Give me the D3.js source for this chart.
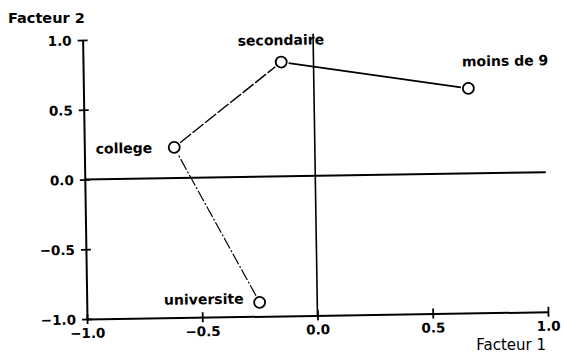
<!DOCTYPE html>
<html>
<head>
<meta charset="utf-8">
<script src="https://cdn.jsdelivr.net/npm/d3@7"></script>
<style>
body { margin: 0; background: #fff; }
text { font-family: "DejaVu Sans", sans-serif; fill: #000; }
</style>
</head>
<body>
<div id="chart"></div>
<script>
// education levels, in the order the path joins them
const categories = ["universite", "college", "secondaire", "moins de 9"];
const facteur1 = [-0.25, -0.61, -0.14, 0.67];
const facteur2 = [-0.90, 0.22, 0.82, 0.61];
const tickValues = [-1.0, -0.5, 0.0, 0.5, 1.0];
const tickLabels = ["\u22121.0", "\u22120.5", "0.0", "0.5", "1.0"];

const width = 564, height = 355;

const svg = d3.select("#chart")
    .append("svg")
    .attr("width", width)
    .attr("height", height);

const x = d3.scaleLinear().domain([-1, 1]).range([87, 548]);
const y = d3.scaleLinear().domain([-1, 1]).range([319, 40]);

// the scanned original is tilted a little
const g = svg.append("g")
    .attr("transform", "rotate(-0.9," + x(-1) + "," + y(-1) + ")");

const fmt = (d) => tickLabels[tickValues.indexOf(d)];

const xAxis = g.append("g")
    .attr("transform", "translate(0," + y(-1) + ")")
    .call(d3.axisBottom(x).tickValues(tickValues).tickFormat(fmt).tickSize(5).tickSizeOuter(0));
xAxis.selectAll(".tick line").attr("y1", -5).attr("stroke-width", 1.8);
xAxis.selectAll(".tick text").attr("y", 19).attr("dy", 0);

const yAxis = g.append("g")
    .attr("transform", "translate(" + x(-1) + ",0)")
    .call(d3.axisLeft(y).tickValues(tickValues).tickFormat(fmt).tickSize(5).tickSizeOuter(0));
yAxis.selectAll(".tick line").attr("x1", 5).attr("stroke-width", 1.8);
yAxis.selectAll(".tick text").attr("x", -11).attr("dy", "0.36em");

g.selectAll(".domain").attr("stroke-width", 2);
g.selectAll(".tick text")
    .attr("font-family", "DejaVu Sans")
    .attr("font-weight", "bold")
    .attr("font-size", 13.5);

// zero lines
g.append("line")
    .attr("x1", x(-1)).attr("x2", x(1))
    .attr("y1", y(0)).attr("y2", y(0))
    .attr("stroke", "#000").attr("stroke-width", 2);
g.append("line")
    .attr("x1", x(0)).attr("x2", x(0))
    .attr("y1", y(1.02)).attr("y2", y(-1))
    .attr("stroke", "#000").attr("stroke-width", 1.6);

const pts = categories.map((c, i) => ({name: c, px: x(facteur1[i]), py: y(facteur2[i])}));
const r = 5.5;

// segments between the points, stopping short of the circles
const dashes = ["12,2,2,2", "14,2", null];
const widths = [1.2, 1.4, 1.8];
for (let i = 0; i < pts.length - 1; i++) {
    const a = pts[i], b = pts[i + 1];
    const dx = b.px - a.px, dy = b.py - a.py;
    const len = Math.sqrt(dx * dx + dy * dy);
    const ux = dx / len, uy = dy / len;
    const gap = r + 2;
    g.append("line")
        .attr("x1", a.px + ux * gap).attr("y1", a.py + uy * gap)
        .attr("x2", b.px - ux * gap).attr("y2", b.py - uy * gap)
        .attr("stroke", "#000")
        .attr("stroke-width", widths[i])
        .attr("stroke-dasharray", dashes[i]);
}

g.selectAll("circle.pt")
    .data(pts)
    .enter()
    .append("circle")
    .attr("class", "pt")
    .attr("cx", (d) => d.px)
    .attr("cy", (d) => d.py)
    .attr("r", r)
    .attr("fill", "#fff")
    .attr("stroke", "#000")
    .attr("stroke-width", 1.8);

const labelPlace = {
    "universite": {anchor: "end", dx: -16, dy: 1},
    "college": {anchor: "end", dx: -22, dy: 5},
    "secondaire": {anchor: "middle", dx: 0, dy: -17},
    "moins de 9": {anchor: "start", dx: -6, dy: -22}
};

g.selectAll("text.lbl")
    .data(pts)
    .enter()
    .append("text")
    .attr("class", "lbl")
    .attr("x", (d) => d.px + labelPlace[d.name].dx)
    .attr("y", (d) => d.py + labelPlace[d.name].dy)
    .attr("text-anchor", (d) => labelPlace[d.name].anchor)
    .attr("font-weight", "bold")
    .attr("font-size", 14)
    .text((d) => d.name);

// axis titles
svg.append("text")
    .attr("x", 8).attr("y", 23)
    .attr("font-weight", "bold")
    .attr("font-size", 14.5)
    .text("Facteur 2");

svg.append("text")
    .attr("x", 546).attr("y", 350)
    .attr("text-anchor", "end")
    .attr("font-size", 15)
    .text("Facteur 1");
</script>
</body>
</html>
